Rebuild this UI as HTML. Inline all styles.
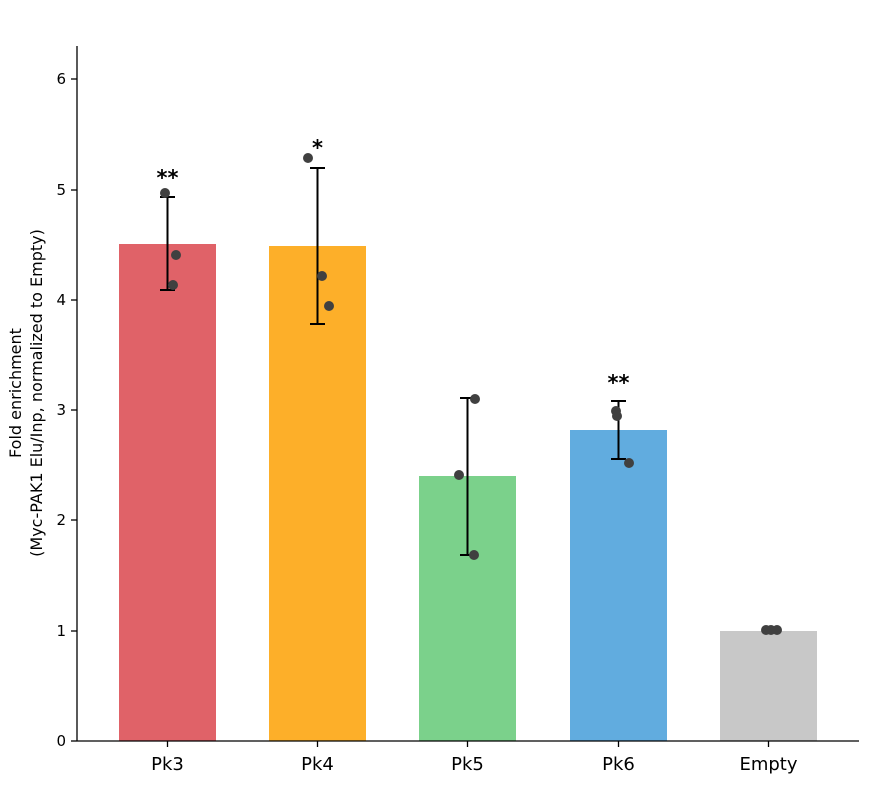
<!DOCTYPE html>
<html><head><meta charset="utf-8"><style>body{margin:0;background:#fff}svg{display:block;font-family:"DejaVu Sans","Liberation Sans",sans-serif}</style></head><body>
<svg width="883" height="789" viewBox="0 0 883 789">
<rect width="883" height="789" fill="#fff"/>
<g>
<rect x="119" y="244" width="97" height="497" fill="#e06268"/>
<rect x="269" y="246" width="97" height="495" fill="#fdaf29"/>
<rect x="419" y="476" width="97" height="265" fill="#7bd18b"/>
<rect x="570" y="430" width="97" height="311" fill="#61acdf"/>
<rect x="720" y="631" width="97" height="110" fill="#c8c8c8"/>
</g>
<g stroke="#000" stroke-width="2">
<line x1="167.5" y1="197" x2="167.5" y2="290"/><line x1="160" y1="197" x2="175" y2="197"/><line x1="160" y1="290" x2="175" y2="290"/>
<line x1="317.5" y1="168" x2="317.5" y2="324"/><line x1="310" y1="168" x2="325" y2="168"/><line x1="310" y1="324" x2="325" y2="324"/>
<line x1="467.5" y1="398" x2="467.5" y2="555"/><line x1="460" y1="398" x2="475" y2="398"/><line x1="460" y1="555" x2="475" y2="555"/>
<line x1="618.5" y1="401" x2="618.5" y2="459"/><line x1="611" y1="401" x2="626" y2="401"/><line x1="611" y1="459" x2="626" y2="459"/>
</g>
<g fill="#404040">
<circle cx="165" cy="193" r="5"/><circle cx="176" cy="255" r="5"/><circle cx="173" cy="285" r="5"/>
<circle cx="308" cy="158" r="5"/><circle cx="322" cy="276" r="5"/><circle cx="329" cy="306" r="5"/>
<circle cx="459" cy="475" r="5"/><circle cx="475" cy="399" r="5"/><circle cx="474" cy="555" r="5"/>
<circle cx="616" cy="411" r="5"/><circle cx="617" cy="416" r="5"/><circle cx="629" cy="463" r="5"/>
<circle cx="766" cy="630" r="5"/><circle cx="771" cy="630" r="5"/><circle cx="777" cy="630" r="5"/>
</g>
<g font-size="21" font-weight="bold" text-anchor="middle">
<text x="167.5" y="185">**</text><text x="317.5" y="155">*</text><text x="618.5" y="390">**</text>
</g>
<g stroke="#000" stroke-width="1.3">
<line x1="77" y1="46" x2="77" y2="741"/><line x1="77" y1="741" x2="859" y2="741"/>
<line x1="71" y1="741" x2="77" y2="741"/><line x1="71" y1="631" x2="77" y2="631"/><line x1="71" y1="520" x2="77" y2="520"/>
<line x1="71" y1="410" x2="77" y2="410"/><line x1="71" y1="300" x2="77" y2="300"/><line x1="71" y1="190" x2="77" y2="190"/><line x1="71" y1="79" x2="77" y2="79"/>
<line x1="167.5" y1="741" x2="167.5" y2="747"/><line x1="317.5" y1="741" x2="317.5" y2="747"/><line x1="467.5" y1="741" x2="467.5" y2="747"/><line x1="618.5" y1="741" x2="618.5" y2="747"/><line x1="768.5" y1="741" x2="768.5" y2="747"/>
</g>
<g font-size="15" text-anchor="end">
<text x="66" y="746">0</text><text x="66" y="636">1</text><text x="66" y="525">2</text><text x="66" y="415">3</text><text x="66" y="305">4</text><text x="66" y="195">5</text><text x="66" y="84">6</text>
</g>
<g font-size="18" text-anchor="middle">
<text x="167.5" y="770">Pk3</text><text x="317.5" y="770">Pk4</text><text x="467.5" y="770">Pk5</text><text x="618.5" y="770">Pk6</text><text x="768.5" y="770">Empty</text>
</g>
<g font-size="16" text-anchor="middle">
<text transform="translate(21,393) rotate(-90)">Fold enrichment</text>
<text transform="translate(42,393) rotate(-90)">(Myc-PAK1 Elu/Inp, normalized to Empty)</text>
</g>
</svg>
</body></html>
